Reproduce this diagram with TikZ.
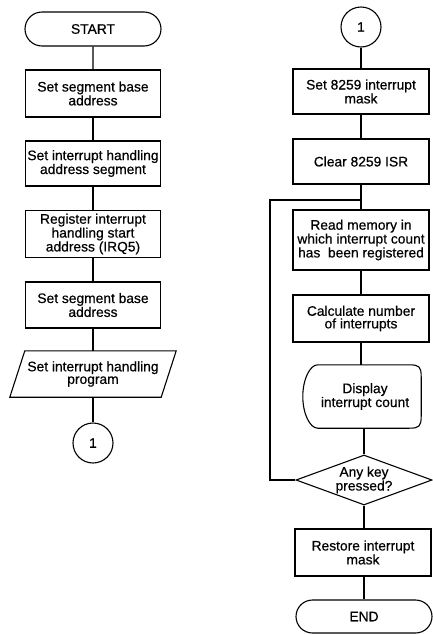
\documentclass[tikz,border=0pt]{standalone}
\usepackage{fontspec}
\setmainfont{Liberation Sans}[FakeBold=0.5]
\usetikzlibrary{shapes.misc,shapes.geometric}
\tikzset{
  every node/.style={font=\fontsize{13.8}{12.6}\selectfont, align=center, inner sep=0pt},
  ln/.style={line width=1.1pt},
  term/.style={ln, draw, rounded rectangle, minimum width=136pt, minimum height=34pt},
  proc/.style={ln, draw, rectangle, minimum width=135pt},
  conn/.style={ln, draw, circle, minimum size=40pt},
  plain/.style={draw=none, rectangle},
  dec/.style={ln, draw, diamond, aspect=2.7, minimum width=136pt, minimum height=50pt},
  flow/.style={ln}
}
\begin{document}
\begin{tikzpicture}[x=1pt,y=-1pt]
\useasboundingbox (0,0) rectangle (433,635);
% left column
\node[term] (start) at (93,29) {START};
\node[proc, minimum height=47pt] (b1) at (93,93.5) {Set segment base\\address};
\node[proc, minimum height=45pt] (b2) at (93,163.5) {Set interrupt handling\\address segment};
\node[proc, minimum height=47pt] (b3) at (93,234) {Register interrupt\\handling start\\address (IRQ5)};
\node[proc, minimum height=46pt] (b4) at (93,305) {Set segment base\\address};
\node[plain, minimum width=150pt, minimum height=46pt] (par) at (93,374) {Set interrupt handling\\program};
\draw[ln] ([xshift=-8pt]par.south west) -- ([xshift=-7pt]par.south east)
  -- ([xshift=8pt]par.north east) -- ([xshift=7pt]par.north west) -- cycle;
\node[conn] (c1) at (93,443) {1};
\draw[flow] (start) -- (b1);
\draw[flow] (b1) -- (b2);
\draw[flow] (b2) -- (b3);
\draw[flow] (b3) -- (b4);
\draw[flow] (b4) -- (par);
\draw[flow] (par) -- (c1);
% right column
\node[conn] (c2) at (361,27) {1};
\node[proc, minimum width=136pt, minimum height=45pt] (r1) at (361,91.5) {Set 8259 interrupt\\mask};
\node[proc, minimum width=136pt, minimum height=45pt] (r2) at (361,161.5) {Clear 8259 ISR};
\coordinate (jn) at (361,200);
\coordinate (lp) at (270,200);
\node[proc, minimum width=136pt, minimum height=60pt] (r3) at (361,240) {Read memory in\\which interrupt count\\has\ \ been registered};
\node[proc, minimum width=136pt, minimum height=47pt] (r4) at (361,318.5) {Calculate number\\of interrupts};
\node[plain, minimum width=118pt, minimum height=63pt] (disp) at (362,396.5) {\hspace*{6pt}Display\\\hspace*{6pt}interrupt count};
\draw[ln] ([xshift=15pt]disp.north west) -- ([xshift=-12pt]disp.north east)
  .. controls ([xshift=-2pt]disp.north east) and ([yshift=-2pt]disp.north east) .. ([yshift=-12pt]disp.north east)
  -- ([yshift=12pt]disp.south east)
  .. controls ([yshift=2pt]disp.south east) and ([xshift=-2pt]disp.south east) .. ([xshift=-12pt]disp.south east)
  -- ([xshift=15pt]disp.south west)
  .. controls ([xshift=7pt]disp.south west) and ([yshift=-17pt]disp.west) .. (disp.west)
  .. controls ([yshift=17pt]disp.west) and ([xshift=7pt]disp.north west) .. ([xshift=15pt]disp.north west);
\node[dec] (dia) at (364,480) {Any key\\pressed?};
\node[proc, minimum width=136pt, minimum height=47pt] (r5) at (363,552.5) {Restore interrupt\\mask};
\node[term, minimum height=33pt] (fin) at (364,616.5) {END};
\draw[flow] (c2) -- (r1);
\draw[flow] (r1) -- (r2);
\draw[flow] (r2.south) -- (jn) -- (r3.north);
\draw[flow] (r3) -- (r4);
\draw[flow] (r4.south) -- (r4.south |- disp.north);
\draw[flow] (disp.south -| dia.north) -- (dia.north);
\draw[flow] (dia.west) -| (lp) -- (jn);
\draw[flow] (dia.south) -- (dia.south |- r5.north);
\draw[flow] (r5.south -| fin.north) -- (fin.north);
\end{tikzpicture}
\end{document}
